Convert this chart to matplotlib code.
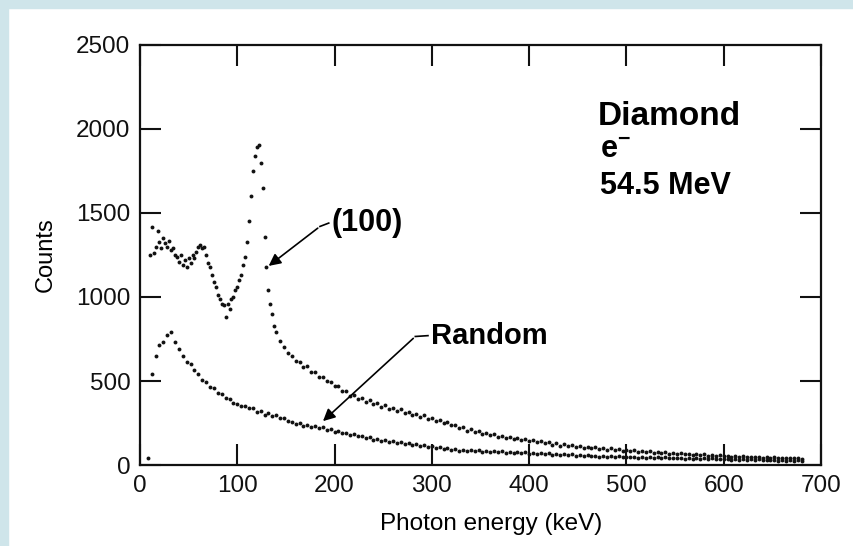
import numpy as np
import matplotlib
matplotlib.use("Agg")
import matplotlib.pyplot as plt
from matplotlib.patches import Rectangle

plt.rcParams['font.family'] = ['Liberation Sans', 'DejaVu Sans']
plt.rcParams['mathtext.default'] = 'regular'

# --- data (counts per channel) ---
# (100) channelling spectrum, fine steps through the low-energy peaks
energy_100_low = np.arange(10, 141, 2)
counts_100_low = [
    1250, 1417, 1260, 1300, 1390, 1330, 1290, 1350, 1320, 1300,
    1335, 1280, 1290, 1250, 1240, 1210, 1250, 1190, 1220, 1180,
    1230, 1200, 1250, 1230, 1270, 1300, 1310, 1290, 1300, 1250,
    1200, 1180, 1130, 1090, 1060, 1010, 990, 960, 950, 880,
    960, 930, 990, 1000, 1040, 1060, 1100, 1130, 1190, 1240,
    1330, 1450, 1600, 1750, 1840, 1890, 1905, 1800, 1650, 1360,
    1180, 1040, 960, 900, 830, 790,
]
# (100) tail
energy_100_high = np.arange(144, 681, 4)
counts_100_high = [
    740, 700, 665, 650, 618, 615, 585, 590, 555, 552,
    525, 522, 500, 495, 468, 470, 438, 440, 412, 418,
    395, 398, 375, 385, 362, 370, 348, 355, 335, 342,
    322, 332, 310, 318, 300, 305, 285, 295, 275, 282,
    262, 270, 248, 255, 236, 240, 222, 228, 205, 212,
    195, 204, 186, 192, 176, 184, 168, 175, 160, 166,
    152, 160, 146, 152, 140, 146, 134, 140, 128, 135,
    122, 128, 116, 124, 112, 118, 108, 115, 104, 110,
    100, 106, 96, 102, 92, 99, 90, 95, 86, 92,
    82, 88, 79, 85, 76, 82, 74, 79, 71, 76,
    68, 73, 66, 70, 63, 68, 61, 65, 58, 63,
    56, 60, 54, 58, 52, 56, 50, 54, 48, 52,
    47, 50, 45, 49, 44, 47, 42, 46, 41, 44,
    40, 43, 39, 42, 38,
]
# random orientation spectrum
energy_random = np.arange(8, 681, 4)
counts_random = [
    40, 540, 650, 715, 735, 775, 790, 730, 690, 650,
    615, 600, 565, 540, 505, 495, 465, 458, 428, 420,
    398, 392, 368, 365, 350, 352, 338, 340, 318, 322,
    300, 308, 292, 296, 282, 280, 262, 258, 245, 250,
    235, 240, 226, 232, 220, 224, 208, 212, 198, 202,
    188, 192, 178, 184, 170, 174, 160, 166, 150, 156,
    142, 146, 135, 140, 128, 134, 124, 130, 120, 124,
    115, 120, 108, 114, 100, 106, 95, 100, 90, 96,
    86, 92, 84, 90, 82, 88, 80, 86, 78, 84,
    76, 82, 74, 80, 72, 77, 70, 75, 68, 73,
    66, 71, 64, 69, 62, 67, 60, 65, 58, 63,
    56, 61, 54, 58, 52, 56, 50, 55, 49, 53,
    47, 51, 46, 50, 45, 49, 44, 48, 43, 47,
    42, 46, 41, 45, 40, 44, 39, 43, 38, 42,
    37, 41, 36, 40, 35, 39, 34, 38, 33, 37,
    32, 36, 31, 35, 30, 34, 29, 33, 28, 32,
    27, 31, 26, 30, 25, 29, 24, 28, 25,
]

x_ticks = [0, 100, 200, 300, 400, 500, 600, 700]
y_ticks = [0, 500, 1000, 1500, 2000, 2500]

fig = plt.figure(figsize=(8.54, 5.46), dpi=100)
fig.patch.set_facecolor('white')
# light blue frame strips of the scan
fig.patches.append(Rectangle((0, 0), 8 / 854, 1, transform=fig.transFigure,
                             color='#cfe5ea', zorder=0))
fig.patches.append(Rectangle((0, 1 - 8 / 546), 1, 8 / 546, transform=fig.transFigure,
                             color='#cfe5ea', zorder=0))

ax = fig.add_axes([140 / 854, 1 - 465 / 546, 681 / 854, 420 / 546])

dot = dict(linestyle='none', marker='o', ms=2.8, mew=0, color='#111111')
ax.plot(energy_100_low, counts_100_low, **dot)
ax.plot(energy_100_high, counts_100_high, **dot)
ax.plot(energy_random, counts_random, **dot)

ax.set_xlim(0, 700)
ax.set_ylim(0, 2500)
ax.set_xticks(x_ticks)
ax.set_yticks(y_ticks)
ax.tick_params(direction='in', length=15, width=1.5, top=True, right=True,
               labelsize=17.5, pad=7, colors='#111111')
for s in ax.spines.values():
    s.set_linewidth(1.6)
    s.set_color('#111111')

ax.set_xlabel('Photon energy (keV)', fontsize=17.5, labelpad=12, x=0.515)
ax.set_ylabel('Counts', fontsize=17, labelpad=14)

# labels inside the plot
ax.text(471, 2025, 'Diamond', fontsize=24, fontweight='bold')
ax.text(473, 1825, 'e$^{-}$', fontsize=22, fontweight='bold')
ax.text(473, 1615, '54.5 MeV', fontsize=22, fontweight='bold')

ax.text(197, 1440, '(100)', fontsize=22, fontweight='bold', va='center')
ax.plot([194, 185], [1440, 1420], color='k', lw=1.2)
ax.annotate('', xy=(130, 1175), xytext=(185, 1420),
            arrowprops=dict(arrowstyle='-|>', color='k', lw=1.2, mutation_scale=18))

ax.text(299, 770, 'Random', fontsize=21, fontweight='bold', va='center')
ax.plot([296, 283], [770, 765], color='k', lw=1.2)
ax.annotate('', xy=(186, 250), xytext=(283, 765),
            arrowprops=dict(arrowstyle='-|>', color='k', lw=1.2, mutation_scale=18))

fig.savefig('out.png', dpi=100)
